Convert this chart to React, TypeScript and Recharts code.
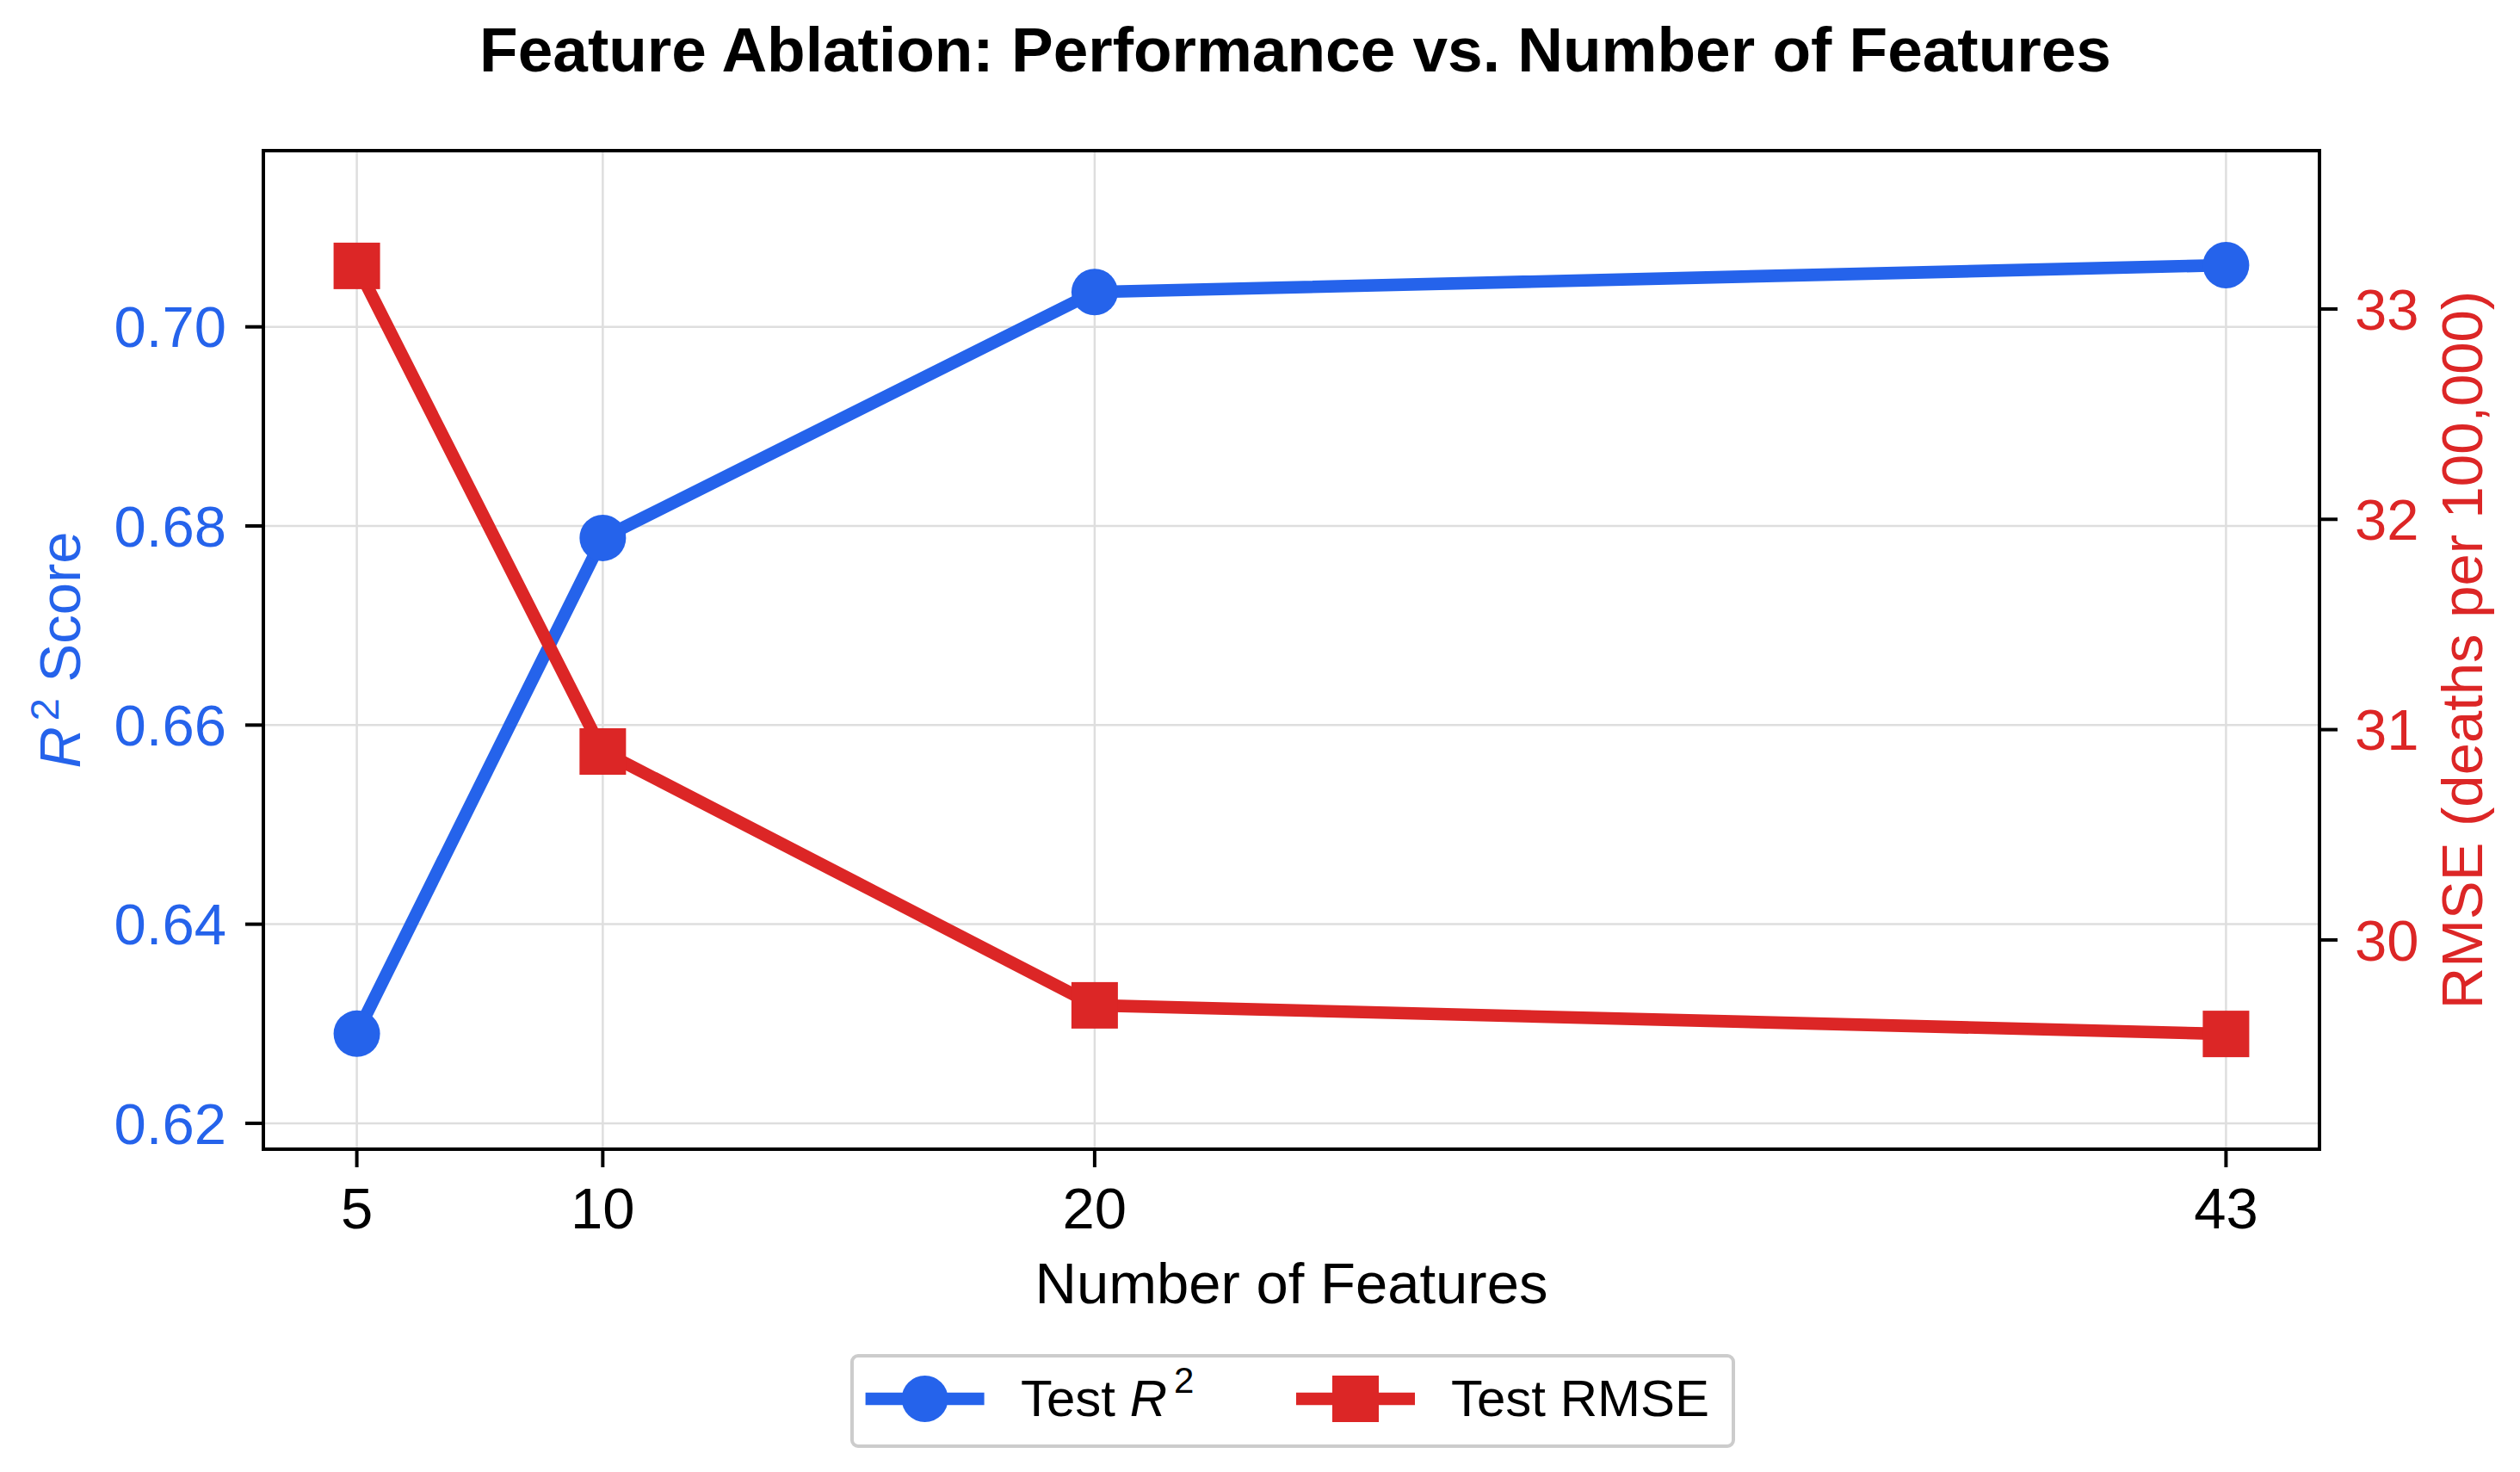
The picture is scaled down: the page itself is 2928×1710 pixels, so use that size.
import React from 'react';
import {
  LineChart,
  Line,
  XAxis,
  YAxis,
  CartesianGrid,
  ReferenceArea,
  Legend,
  Customized,
} from 'recharts';

// ---------- data ----------
const FEATURES = [5, 10, 20, 43];
const R2_VALUES = [0.629, 0.6788, 0.7035, 0.7062];
const RMSE_VALUES = [33.205, 30.896, 29.689, 29.553];

const X_TICKS = [5, 10, 20, 43];
const R2_TICKS = [0.62, 0.64, 0.66, 0.68, 0.7];
const RMSE_TICKS = [30, 31, 32, 33];

const X_DOMAIN = [3.1, 44.9];
const R2_DOMAIN = [0.6174, 0.7177];
const RMSE_DOMAIN = [29.005, 33.753];

const TITLE = 'Feature Ablation: Performance vs. Number of Features';
const X_LABEL = 'Number of Features';
const RMSE_LABEL = 'RMSE (deaths per 100,000)';
const R2_NAME = 'Test R²';
const RMSE_NAME = 'Test RMSE';

const data = FEATURES.map((f, i) => ({ features: f, r2: R2_VALUES[i], rmse: RMSE_VALUES[i] }));

// ---------- styles ----------
const FONT = '"Liberation Sans", Arial, Helvetica, sans-serif';
const BLUE = '#2563eb';
const RED = '#dc2626';
const FS = 67;
const LW = 14.6;
const MS = 54;

const CircleDot = (props: any) => {
  const { cx, cy, index } = props;
  if (cx == null || cy == null) return null;
  return <circle key={`c-${index}`} cx={cx} cy={cy} r={MS / 2} fill={BLUE} />;
};

const SquareDot = (props: any) => {
  const { cx, cy, index } = props;
  if (cx == null || cy == null) return null;
  return <rect key={`s-${index}`} x={cx - MS / 2} y={cy - MS / 2} width={MS} height={MS} fill={RED} />;
};

const LeftLabel = () => (
  <text
    x={93}
    y={755}
    transform="rotate(-90, 93, 755)"
    textAnchor="middle"
    fill={BLUE}
    fontSize={FS}
    fontFamily={FONT}
  >
    <tspan fontStyle="italic">R</tspan>
    <tspan dx={7} dy={-25} fontSize={47}>2</tspan>
    <tspan dy={25}> Score</tspan>
  </text>
);

const RightLabel = () => (
  <text
    x={2884}
    y={755}
    transform="rotate(-90, 2884, 755)"
    textAnchor="middle"
    fill={RED}
    fontSize={FS}
    fontFamily={FONT}
  >
    {RMSE_LABEL}
  </text>
);

const BottomLabel = () => (
  <text x={1500.5} y={1514} textAnchor="middle" fill="#000" fontSize={FS} fontFamily={FONT}>
    {X_LABEL}
  </text>
);

const Title = () => (
  <text x={1505} y={83} textAnchor="middle" fill="#000" fontSize={73} fontWeight="bold" fontFamily={FONT}>
    {TITLE}
  </text>
);

const LegendContent = (props: any) => {
  const payload = props.payload || [];
  const slotFor: Record<string, { line: number; text: number }> = {
    r2: { line: 17.6, text: 198 },
    rmse: { line: 518, text: 698 },
  };
  return (
    <div
      style={{
        width: 1028,
        height: 109,
        boxSizing: 'border-box',
        border: '4px solid #cccccc',
        borderRadius: 9,
        background: '#ffffff',
        position: 'relative',
      }}
    >
      <svg width={1028} height={109} style={{ position: 'absolute', left: -4, top: -4 }}>
        {payload.map((entry: any, i: number) => {
          const isR2 = entry.dataKey === 'r2';
          const s = slotFor[isR2 ? 'r2' : 'rmse'];
          const color = isR2 ? BLUE : RED;
          const cx = s.line + 69;
          return (
            <g key={`leg-${i}`}>
              <line x1={s.line} x2={s.line + 138} y1={52} y2={52} stroke={color} strokeWidth={LW} />
              {isR2 ? (
                <circle cx={cx} cy={52} r={MS / 2} fill={color} />
              ) : (
                <rect x={cx - MS / 2} y={52 - MS / 2} width={MS} height={MS} fill={color} />
              )}
              <text x={s.text} y={72} fontSize={60} fontFamily={FONT} fill="#000">
                {isR2 ? (
                  <>
                    <tspan>Test </tspan>
                    <tspan fontStyle="italic">R</tspan>
                    <tspan dx={8} dy={-27} fontSize={42}>2</tspan>
                  </>
                ) : (
                  entry.value
                )}
              </text>
            </g>
          );
        })}
      </svg>
    </div>
  );
};

export default function App() {
  return (
    <div style={{ position: 'absolute', left: 0, top: 0, width: 2928, height: 1710, background: '#ffffff' }}>
      <LineChart
        width={2928}
        height={1710}
        data={data}
        margin={{ top: 175, right: 33, bottom: 275, left: 106 }}
      >
        <CartesianGrid yAxisId="left" stroke="#dedede" strokeWidth={2.5} />
        <XAxis
          dataKey="features"
          type="number"
          domain={X_DOMAIN}
          ticks={X_TICKS}
          allowDataOverflow
          height={100}
          axisLine={false}
          tickSize={21}
          tickMargin={23}
          tickLine={{ stroke: '#000', strokeWidth: 4 }}
          tick={{ fill: '#000', fontSize: FS, fontFamily: FONT }}
          label={<BottomLabel />}
        />
        <YAxis
          yAxisId="left"
          domain={R2_DOMAIN}
          ticks={R2_TICKS}
          allowDataOverflow
          width={200}
          axisLine={false}
          tickSize={21}
          tickMargin={22}
          tickLine={{ stroke: '#000', strokeWidth: 4 }}
          tick={{ fill: BLUE, fontSize: FS, fontFamily: FONT }}
          tickFormatter={(v: number) => v.toFixed(2)}
          label={<LeftLabel />}
        />
        <YAxis
          yAxisId="right"
          orientation="right"
          domain={RMSE_DOMAIN}
          ticks={RMSE_TICKS}
          allowDataOverflow
          width={200}
          axisLine={false}
          tickSize={21}
          tickMargin={20}
          tickLine={{ stroke: '#000', strokeWidth: 4 }}
          tick={{ fill: RED, fontSize: FS, fontFamily: FONT }}
          label={<RightLabel />}
        />
        <Line
          yAxisId="left"
          type="linear"
          dataKey="r2"
          name={R2_NAME}
          stroke={BLUE}
          strokeWidth={LW}
          strokeLinejoin="round"
          dot={CircleDot}
          activeDot={false}
          isAnimationActive={false}
        />
        <Line
          yAxisId="right"
          type="linear"
          dataKey="rmse"
          name={RMSE_NAME}
          stroke={RED}
          strokeWidth={LW}
          strokeLinejoin="round"
          dot={SquareDot}
          activeDot={false}
          isAnimationActive={false}
        />
        <ReferenceArea
          yAxisId="left"
          x1={X_DOMAIN[0]}
          x2={X_DOMAIN[1]}
          y1={R2_DOMAIN[0]}
          y2={R2_DOMAIN[1]}
          fill="none"
          fillOpacity={0}
          stroke="#000"
          strokeWidth={4}
          ifOverflow="visible"
        />
        <Legend
          layout="horizontal"
          verticalAlign="middle"
          align="center"
          wrapperStyle={{ left: 988, top: 1573, width: 1028, height: 109 }}
          content={<LegendContent />}
        />
        <Customized component={<Title />} />
      </LineChart>
    </div>
  );
}
